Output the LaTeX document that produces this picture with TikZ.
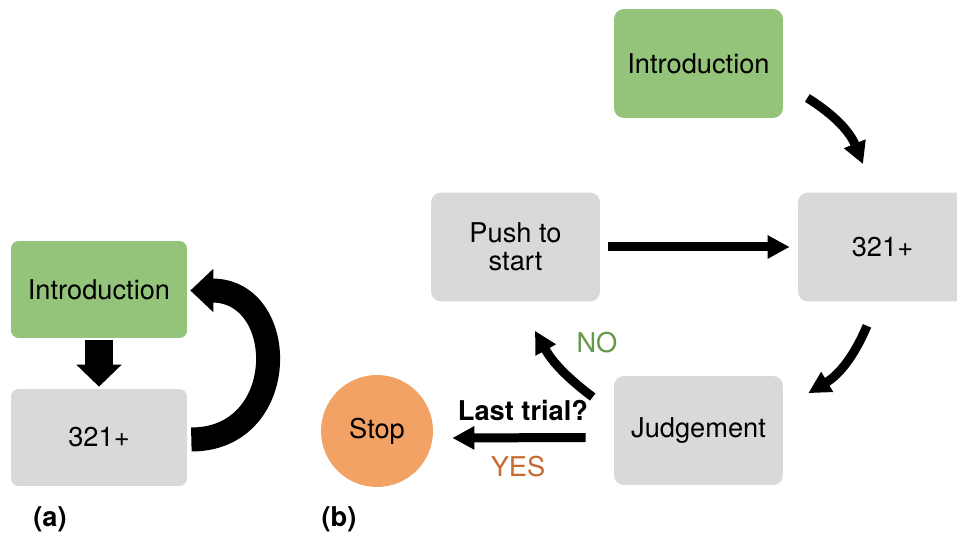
\documentclass[tikz,border=0pt]{standalone}
\usepackage{fontspec}
\setmainfont{TeX Gyre Heros}
\usetikzlibrary{arrows.meta,calc}

\definecolor{introgreen}{HTML}{94C47A}
\definecolor{boxgrey}{HTML}{D9D9D9}
\definecolor{stoporange}{HTML}{F3A265}
\definecolor{nogreen}{HTML}{629A45}
\definecolor{yesorange}{HTML}{C8692E}

\begin{document}
\begin{tikzpicture}[x=0.02cm, y=-0.02cm,
	every node/.style={font=\fontsize{15.5}{16}\selectfont, inner sep=0pt},
	smallbox/.style={rounded corners=0.15cm, minimum width=3.52cm, minimum height=1.94cm},
	bigbox/.style={rounded corners=0.2cm, minimum width=3.38cm, minimum height=2.18cm, align=center},
	thin arrow/.style={line width=0.18cm, -{Triangle[length=0.44cm, width=0.44cm]}},
	label/.style={font=\fontsize{15.5}{18}\selectfont\bfseries}
]
	\clip ( 0, 0 ) rectangle ( 957, 533 );

	% (a) цикл
	\node [smallbox, fill=introgreen] (introA) at ( 99, 289.5 ) {Introduction};
	\node [smallbox, fill=boxgrey] (cA) at ( 99, 437.5 ) {321+};
	\draw [line width=0.56cm, -{Triangle[length=0.44cm, width=0.88cm]}] ( $(introA.south)+(0,2)$ ) -- ( $(cA.north)+(0,-2)$ );
	\draw [line width=0.48cm, -{Triangle[length=0.46cm, width=0.84cm]}] ( $(cA.east)+(4,2)$ ) to [ out = 0, in = 0, looseness = 1.7 ] ( $(introA.east)+(3,1)$ );
	\node [label] (labA) at ( 50, 519 ) {(a)};

	% (b) узлы
	\node [bigbox, fill=introgreen] (introB) at ( 698.5, 63.5 ) {Introduction};
	\node [bigbox, fill=boxgrey] (cB) at ( 882.5, 247 ) {321+};
	\node [bigbox, fill=boxgrey] (push) at ( 515.5, 247 ) {Push to\\start};
	\node [bigbox, fill=boxgrey] (judge) at ( 698.5, 430.5 ) {\raisebox{-2pt}{Judgement}};
	\node [circle, fill=stoporange, minimum size=2.24cm] (stop) at ( 377, 431 ) {Stop};

	% (b) стрелки
	\draw [thin arrow] ( $(introB.east)+(24,34.5)$ ) to [ bend left = 18 ] ( $(cB.north)+(-19.5,-28)$ );
	\draw [thin arrow] ( $(push.east)+(8,0)$ ) -- ( $(cB.west)+(-8,0)$ );
	\draw [thin arrow] ( $(cB.south)+(-15.5,24)$ ) to [ bend left = 18 ] ( $(judge.north east)+(25,17.5)$ );
	\draw [thin arrow] ( $(judge.west)+(-21,-33.5)$ ) to [ bend left = 12 ] ( $(push.south)+(19.5,29)$ );
	\draw [thin arrow] ( $(judge.west)+(-28,7)$ ) -- ( $(stop.east)+(19,7)$ );

	% подписи
	\node [label] (trial) at ( 523, 410 ) {Last trial?};
	\node [text=nogreen] (no) at ( 597, 343 ) {NO};
	\node [text=yesorange] (yes) at ( 518, 467 ) {YES};
	\node [label] (labB) at ( 339, 519 ) {(b)};
\end{tikzpicture}
\end{document}
